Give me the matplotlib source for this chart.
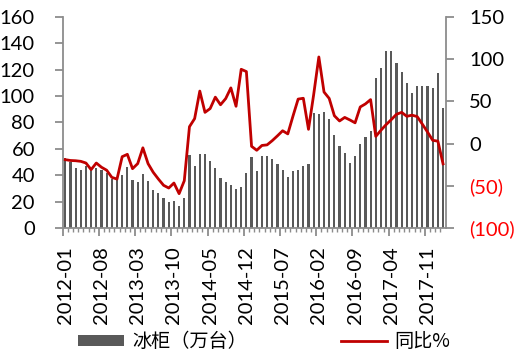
import matplotlib
matplotlib.use("Agg")
import matplotlib.pyplot as plt
import numpy as np
from matplotlib.transforms import ScaledTranslation

plt.rcParams['font.family'] = ['Lato', 'DejaVu Sans', 'Noto Sans CJK SC']

months = [f"{y}-{m:02d}" for y in range(2012, 2019) for m in range(1, 13)][:74]

freezer = [53, 50, 45.5, 44, 47, 44, 45.5, 44, 42, 37.5,
           37, 40, 46.5, 36.5, 35, 41, 36, 29, 26.5, 22.5,
           20, 20.5, 16.7, 22.7, 55.7, 47, 56, 56.3, 50.5, 45.3,
           38, 34.9, 32.3, 29.3, 31.1, 41.7, 53.8, 43.4, 54.7, 54.4,
           52.3, 48.8, 43.7, 38.6, 43.5, 44.3, 47, 48.3, 87.4, 86.7,
           87.9, 82.6, 70.2, 61.9, 57, 49.2, 54.5, 63.4, 68.7, 73.3,
           113.9, 121.5, 134.1, 134.5, 125, 118.2, 109.7, 102.7, 108, 108,
           107.5, 105.8, 117.2, 91.2]

yoy = [-19, -20, -20.3, -21, -23, -30.8, -23, -28, -31.5, -40,
       -42, -15.5, -12.7, -29.7, -23.7, -5, -23.7, -34, -42, -49.4,
       -52.6, -46.7, -59.3, -44, 20, 29.6, 62.2, 37, 41.5, 55,
       46, 53.3, 66, 44.2, 88, 85.3, -3.2, -7.9, -2.2, -1.5,
       3.5, 9.2, 15.2, 11.5, 32.5, 52.7, 53.7, 16.9, 58, 102.6,
       61.1, 53.5, 33, 26.8, 31, 28, 24.6, 43.4, 47, 52.1,
       8.5, 15.8, 22.5, 28.4, 34.7, 37, 32.3, 33.7, 32, 23,
       13.7, 3.9, 2.9, -24]

left_ticks = [0, 20, 40, 60, 80, 100, 120, 140, 160]
right_ticks = [-100, -50, 0, 50, 100, 150]

fig = plt.figure(figsize=(5.2, 3.53), dpi=100)
ax = fig.add_axes([0.1205, 0.354, 0.7365, 0.598])
x = np.arange(len(months))
bars = ax.bar(x, freezer, width=0.42, color='#595959', label='冰柜（万台）')
ax.set_xlim(-0.5, len(months) - 0.5)
ax.set_ylim(0, 160)
ax.set_yticks(left_ticks)

ax2 = ax.twinx()
line, = ax2.plot(x, yoy, color='#C00000', lw=2.0, label='同比%')
ax2.set_ylim(-100, 150)
ax2.set_yticks(right_ticks)
ax2.set_yticklabels([f"({-v})" if v < 0 else f"{v}" for v in right_ticks])
for t, v in zip(ax2.get_yticklabels(), right_ticks):
    t.set_color('#FF0000' if v < 0 else 'black')

spine_c = '#8C8C8C'
for a in (ax, ax2):
    a.spines['top'].set_visible(False)
    for s in ('left', 'right', 'bottom'):
        a.spines[s].set_color(spine_c)
        a.spines[s].set_linewidth(1.3)
ax.spines['right'].set_visible(False)
ax2.spines['left'].set_visible(False)
ax2.spines['bottom'].set_visible(False)

ax.tick_params(axis='y', length=6, width=1.3, color=spine_c, labelsize=14.5, pad=14)
ax2.tick_params(axis='y', length=6, width=1.3, color=spine_c, labelsize=14.5, pad=11)

major = x[::7] - 0.5
ax.set_xticks(major)
ax.set_xticklabels([months[i] for i in x[::7]], rotation=90, fontsize=14.5)
ax.set_xticks(x - 0.5, minor=True)
ax.tick_params(axis='x', which='major', length=6, width=1.3, color=spine_c, pad=7)
ax.tick_params(axis='x', which='minor', length=3, width=1.0, color=spine_c)
off = ScaledTranslation(2.6 / 100, 0, fig.dpi_scale_trans)
for lab in ax.get_xticklabels():
    lab.set_transform(lab.get_transform() + off)

leg = fig.legend(handles=[bars, line], loc='center', bbox_to_anchor=(0.508, 0.032),
                 ncol=2, frameon=False, columnspacing=4.9, handlelength=2.4,
                 handleheight=0.55, handletextpad=0.4, borderpad=0,
                 prop={'family': ['Noto Sans CJK SC', 'DejaVu Sans'], 'size': 13.8})
fig.savefig('out.png', dpi=100)
